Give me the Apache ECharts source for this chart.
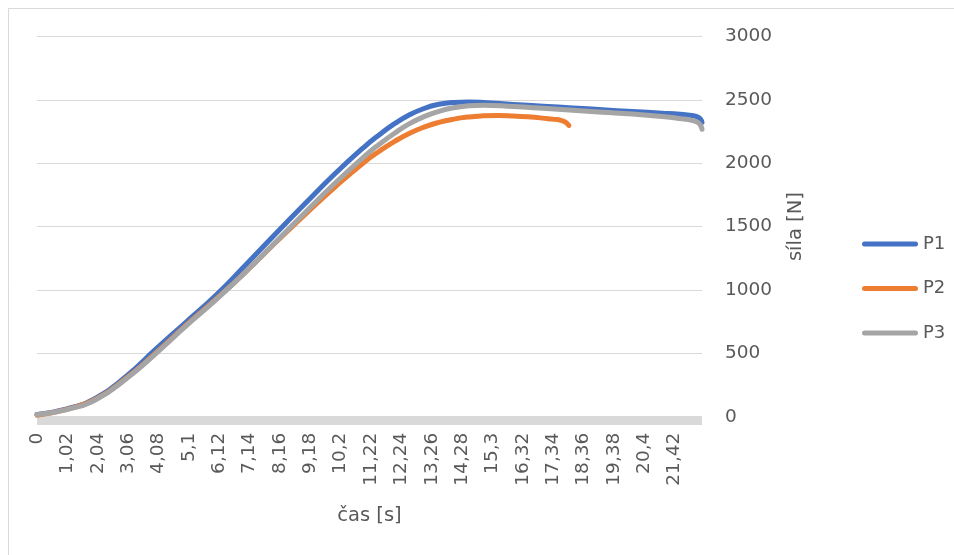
<!DOCTYPE html>
<html>
<head>
<meta charset="utf-8">
<script src="https://cdn.jsdelivr.net/npm/echarts@6/dist/echarts.min.js"></script>
<style>html,body{margin:0;padding:0;background:#fff;}#c{width:954px;height:555px;}</style>
</head>
<body>
<div id="c"></div>
<script>
// ---- data ----
const seriesNames = ['P1', 'P2', 'P3'];
const xTickLabels = ['0','1,02','2,04','3,06','4,08','5,1','6,12','7,14','8,16','9,18','10,2','11,22','12,24','13,26','14,28','15,3','16,32','17,34','18,36','19,38','20,4','21,42'];
const yTickValues = [0, 500, 1000, 1500, 2000, 2500, 3000];

const p1Time  = [0, 1, 2, 3, 4, 5, 6, 7, 8, 9, 10, 11, 11.5, 12, 12.5, 13, 13.5, 14, 14.5, 15, 16, 17, 18, 19, 20, 21, 21.6, 22, 22.2, 22.3, 22.34];
const p1Force = [18, 62, 150, 320, 535, 745, 955, 1195, 1440, 1680, 1915, 2130, 2225, 2310, 2380, 2432, 2465, 2480, 2484, 2480, 2464, 2450, 2436, 2422, 2408, 2395, 2386, 2376, 2364, 2345, 2322];

const p2Time  = [0, 1, 2, 3, 4, 5, 6, 7, 8, 9, 10, 11, 11.5, 12, 12.5, 13, 13.5, 14, 14.5, 15, 15.5, 16, 16.5, 17, 17.4, 17.6, 17.75, 17.87];
const p2Force = [12, 58, 142, 305, 505, 720, 925, 1140, 1370, 1595, 1810, 2010, 2095, 2170, 2235, 2285, 2322, 2348, 2365, 2374, 2377, 2373, 2366, 2356, 2346, 2338, 2324, 2298];

const p3Time  = [0, 1, 2, 3, 4, 5, 6, 7, 8, 9, 10, 11, 11.5, 12, 12.5, 13, 13.5, 14, 14.5, 15, 16, 17, 18, 19, 20, 21, 21.6, 22, 22.2, 22.3, 22.34];
const p3Force = [15, 56, 138, 300, 500, 715, 920, 1140, 1375, 1610, 1840, 2055, 2150, 2235, 2310, 2368, 2410, 2438, 2453, 2458, 2447, 2433, 2418, 2403, 2388, 2368, 2352, 2338, 2322, 2295, 2268];

const xStep = 1.02;
const xMax = 22.34;

// ---- chart ----
const FONT = 'DejaVu Sans';
const TXT = '#595959';
const colors = ['#4472C4', '#ED7D31', '#A5A5A5'];
const pairs = (t, f) => t.map((v, i) => [v, f[i]]);
const allData = [pairs(p1Time, p1Force), pairs(p2Time, p2Force), pairs(p3Time, p3Force)];
const legendIcon = 'path://M2.5,0 L53.5,0 A2.5,2.5 0 0 1 53.5,5 L2.5,5 A2.5,2.5 0 0 1 2.5,0 Z';

const chart = echarts.init(document.getElementById('c'), null, {renderer: 'canvas'});
chart.setOption({
  animation: false,
  backgroundColor: '#fff',
  color: colors,
  textStyle: {fontFamily: FONT},
  graphic: [{
    type: 'rect', left: 6, top: 6, silent: true, z: -10,
    shape: {width: 960, height: 560},
    style: {fill: 'none', stroke: '#d9d9d9', lineWidth: 1}
  }],
  grid: {left: 37, right: 252, top: 36.5, bottom: 138.3, containLabel: false},
  legend: {
    orient: 'vertical', left: 857, top: 229,
    itemWidth: 56, itemHeight: 5, itemGap: 24.5,
    data: seriesNames.map(n => ({name: n, icon: legendIcon})),
    textStyle: {fontFamily: FONT, fontSize: 18, color: TXT, lineHeight: 20}
  },
  xAxis: {
    type: 'value', min: 0, max: xMax, interval: xStep,
    offset: 4,
    name: 'čas [s]', nameLocation: 'middle', nameGap: 85,
    nameTextStyle: {fontFamily: FONT, fontSize: 19.5, color: TXT},
    axisLine: {show: true, onZero: false, lineStyle: {color: '#d9d9d9', width: 8, cap: 'butt'}},
    axisTick: {show: false},
    splitLine: {show: false},
    axisLabel: {
      rotate: 90, margin: 12, showMaxLabel: false,
      fontFamily: FONT, fontSize: 18.5, color: TXT,
      formatter: v => { const i = Math.round(v / xStep); return Math.abs(i * xStep - v) < 1e-6 && xTickLabels[i] !== undefined ? xTickLabels[i] : ''; }
    }
  },
  yAxis: {
    type: 'value', position: 'right', min: yTickValues[0], max: yTickValues[yTickValues.length - 1], interval: 500,
    name: 'síla [N]', nameLocation: 'middle', nameGap: 84, nameRotate: 90,
    nameTextStyle: {fontFamily: FONT, fontSize: 19.5, color: TXT},
    axisLine: {show: false}, axisTick: {show: false},
    splitLine: {show: true, lineStyle: {color: '#d9d9d9', width: 1}},
    axisLabel: {margin: 23, fontFamily: FONT, fontSize: 18.5, color: TXT, formatter: v => String(v)}
  },
  series: seriesNames.map((n, i) => ({
    name: n, type: 'line', data: allData[i],
    showSymbol: false, smooth: 0.5,
    lineStyle: {width: 5, color: colors[i], cap: 'round', join: 'round'},
    itemStyle: {color: colors[i]}
  }))
});
</script>
</body>
</html>
